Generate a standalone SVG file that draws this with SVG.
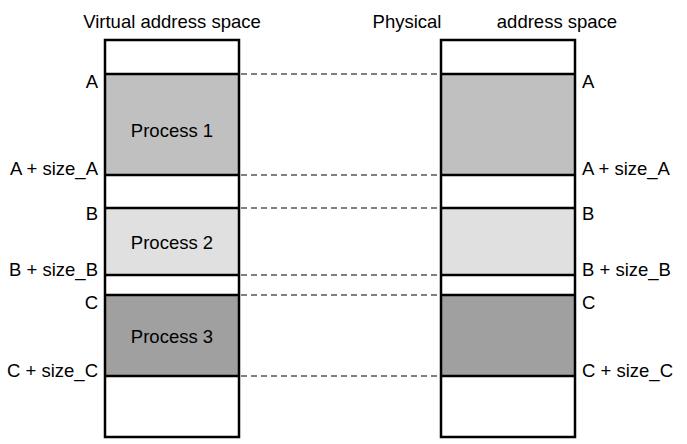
<svg xmlns="http://www.w3.org/2000/svg" width="687" height="444" viewBox="0 0 687 444">
<style>
text{font-family:"Liberation Sans",Arial,sans-serif;font-size:18.5px;fill:#000}
.l{text-anchor:end}
.c{text-anchor:middle}
.sep{stroke:#000;stroke-width:2.5}
.frame{fill:none;stroke:#000;stroke-width:2.5}
.dash{stroke:#000;stroke-width:1.2;stroke-dasharray:6 4;fill:none}
</style>
<rect width="687" height="444" fill="#fff"/>
<text x="172" y="28" class="c">Virtual address space</text>
<text x="407" y="28" class="c">Physical</text>
<text x="557" y="28" class="c">address space</text>
<g id="virtual">
<rect x="105" y="40" width="134" height="397" fill="#fff"/>
<rect x="105" y="74" width="134" height="101" fill="#c0c0c0"/>
<rect x="105" y="208" width="134" height="67" fill="#e0e0e0"/>
<rect x="105" y="295" width="134" height="81" fill="#a0a0a0"/>
<rect class="frame" x="105" y="40" width="134" height="397"/>
<line class="sep" x1="105" y1="74" x2="239" y2="74"/>
<line class="sep" x1="105" y1="175" x2="239" y2="175"/>
<line class="sep" x1="105" y1="208" x2="239" y2="208"/>
<line class="sep" x1="105" y1="275" x2="239" y2="275"/>
<line class="sep" x1="105" y1="295" x2="239" y2="295"/>
<line class="sep" x1="105" y1="376" x2="239" y2="376"/>
<text x="172" y="137" class="c">Process 1</text>
<text x="172" y="249" class="c">Process 2</text>
<text x="172" y="343" class="c">Process 3</text>
<text x="98" y="88" class="l">A</text>
<text x="98" y="175" class="l">A + size_A</text>
<text x="98" y="220" class="l">B</text>
<text x="98" y="276" class="l">B + size_B</text>
<text x="98" y="309" class="l">C</text>
<text x="98" y="377" class="l">C + size_C</text>
</g>
<g id="physical">
<rect x="441" y="40" width="134" height="397" fill="#fff"/>
<rect x="441" y="74" width="134" height="101" fill="#c0c0c0"/>
<rect x="441" y="208" width="134" height="67" fill="#e0e0e0"/>
<rect x="441" y="295" width="134" height="81" fill="#a0a0a0"/>
<rect class="frame" x="441" y="40" width="134" height="397"/>
<line class="sep" x1="441" y1="74" x2="575" y2="74"/>
<line class="sep" x1="441" y1="175" x2="575" y2="175"/>
<line class="sep" x1="441" y1="208" x2="575" y2="208"/>
<line class="sep" x1="441" y1="275" x2="575" y2="275"/>
<line class="sep" x1="441" y1="295" x2="575" y2="295"/>
<line class="sep" x1="441" y1="376" x2="575" y2="376"/>
<text x="582" y="88">A</text>
<text x="582" y="175">A + size_A</text>
<text x="582" y="220">B</text>
<text x="582" y="276">B + size_B</text>
<text x="582" y="309">C</text>
<text x="582" y="377">C + size_C</text>
</g>
<g id="connectors">
<line class="dash" x1="241" y1="74" x2="440" y2="74"/>
<line class="dash" x1="241" y1="175" x2="440" y2="175"/>
<line class="dash" x1="241" y1="208" x2="440" y2="208"/>
<line class="dash" x1="241" y1="275" x2="440" y2="275"/>
<line class="dash" x1="241" y1="295" x2="440" y2="295"/>
<line class="dash" x1="241" y1="376" x2="440" y2="376"/>
</g>
</svg>
